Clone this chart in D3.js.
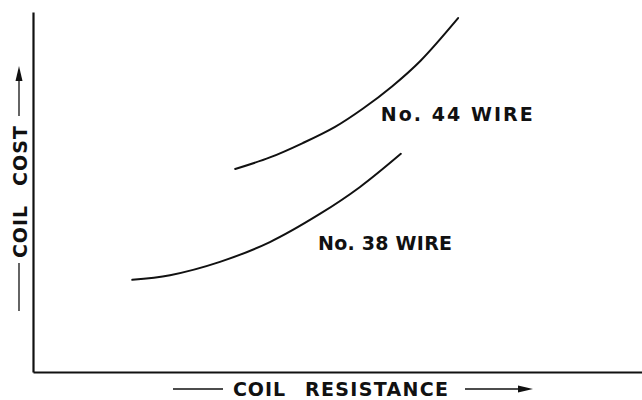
<!DOCTYPE html>
<html>
<head>
<meta charset="utf-8">
<script src="https://cdn.jsdelivr.net/npm/d3@7"></script>
<style>
  html, body { margin: 0; padding: 0; background: #fff; }
  svg { display: block; }
  text { font-family: "DejaVu Sans", sans-serif; font-weight: bold; fill: #111; }
</style>
</head>
<body>
<svg id="chart" width="642" height="400"></svg>
<script>
// Relative resistance (x) and cost (y) readings for each wire gauge
const wireLabels = ["No. 44 WIRE", "No. 38 WIRE"];
const wire44Resistance = [33.2, 38.9, 44.3, 49.6, 54.2, 59.0, 63.6, 69.8];
const wire44Cost       = [56.4, 59.6, 63.6, 68.1, 73.2, 79.4, 86.4, 98.3];
const wire38Resistance = [16.3, 22.5, 30.7, 38.9, 47.1, 53.7, 60.4];
const wire38Cost       = [25.6, 26.9, 30.6, 36.1, 43.9, 51.4, 60.6];
const xTitleWords = ["COIL", "RESISTANCE"];
const yTitleWords = ["COIL", "COST"];

const svg = d3.select("#chart");
const ink = "#111";
const fontSize = 19;

const x = d3.scaleLinear().domain([0, 100]).range([33, 642]);
const y = d3.scaleLinear().domain([0, 100]).range([372, 12]);

// Bare axes: domain lines only, no ticks
svg.append("g").attr("transform", `translate(0,${y(0)})`)
  .call(d3.axisBottom(x).tickValues([]).tickSizeOuter(0));
svg.append("g").attr("transform", `translate(${x(0)},0)`)
  .call(d3.axisLeft(y).tickValues([]).tickSizeOuter(0));
svg.selectAll(".domain").attr("stroke", ink).attr("stroke-width", 2.2);

const line = d3.line()
  .x(d => x(d[0])).y(d => y(d[1]))
  .curve(d3.curveCatmullRom.alpha(0.5));

const series = [
  d3.zip(wire44Resistance, wire44Cost),
  d3.zip(wire38Resistance, wire38Cost)
];

svg.append("g").selectAll("path").data(series).join("path")
  .attr("d", line)
  .attr("fill", "none")
  .attr("stroke", ink)
  .attr("stroke-width", 2)
  .attr("stroke-linecap", "round");

// Curve labels
const labelSpots = [
  { x: x(57.1), y: y(69.6), w: 152 },
  { x: x(46.8), y: y(34.0), w: 134 }
];
svg.append("g").selectAll("text").data(wireLabels).join("text")
  .attr("x", (d, i) => labelSpots[i].x)
  .attr("y", (d, i) => labelSpots[i].y)
  .attr("font-size", fontSize)
  .attr("textLength", (d, i) => labelSpots[i].w)
  .attr("lengthAdjust", "spacing")
  .style("white-space", "pre")
  .text(d => d);

// Arrowhead helper (tip at x,y pointing along angle in degrees)
function arrowHead(g, tx, ty, angle) {
  g.append("path")
    .attr("d", "M0,0 L-15,-3.5 L-15,3.5 Z")
    .attr("fill", ink)
    .attr("transform", `translate(${tx},${ty}) rotate(${angle})`);
}

// X axis title with leader line and arrow
const xt = svg.append("g");
const xBase = 395.5, xMid = 389;
xt.append("text").attr("x", 233).attr("y", xBase).attr("font-size", fontSize)
  .attr("textLength", 52).attr("lengthAdjust", "spacing").text(xTitleWords[0]);
xt.append("text").attr("x", 305).attr("y", xBase).attr("font-size", fontSize)
  .attr("textLength", 143).attr("lengthAdjust", "spacing").text(xTitleWords[1]);
xt.append("line").attr("x1", 173).attr("x2", 223).attr("y1", xMid).attr("y2", xMid)
  .attr("stroke", ink).attr("stroke-width", 1.3);
xt.append("line").attr("x1", 465).attr("x2", 522).attr("y1", xMid).attr("y2", xMid)
  .attr("stroke", ink).attr("stroke-width", 1.3);
arrowHead(xt, 533, xMid, 0);

// Y axis title, rotated, with leader line and arrow
const yt = svg.append("g");
const yBaseX = 26.5, yMidX = 19;
yt.append("text").attr("transform", `translate(${yBaseX},258) rotate(-90)`)
  .attr("font-size", fontSize).attr("textLength", 52).attr("lengthAdjust", "spacing")
  .text(yTitleWords[0]);
yt.append("text").attr("transform", `translate(${yBaseX},186) rotate(-90)`)
  .attr("font-size", fontSize).attr("textLength", 60).attr("lengthAdjust", "spacing")
  .text(yTitleWords[1]);
yt.append("line").attr("x1", yMidX).attr("x2", yMidX).attr("y1", 263).attr("y2", 311)
  .attr("stroke", ink).attr("stroke-width", 1.3);
yt.append("line").attr("x1", yMidX).attr("x2", yMidX).attr("y1", 116).attr("y2", 76)
  .attr("stroke", ink).attr("stroke-width", 1.3);
arrowHead(yt, yMidX, 66, -90);
</script>
</body>
</html>
